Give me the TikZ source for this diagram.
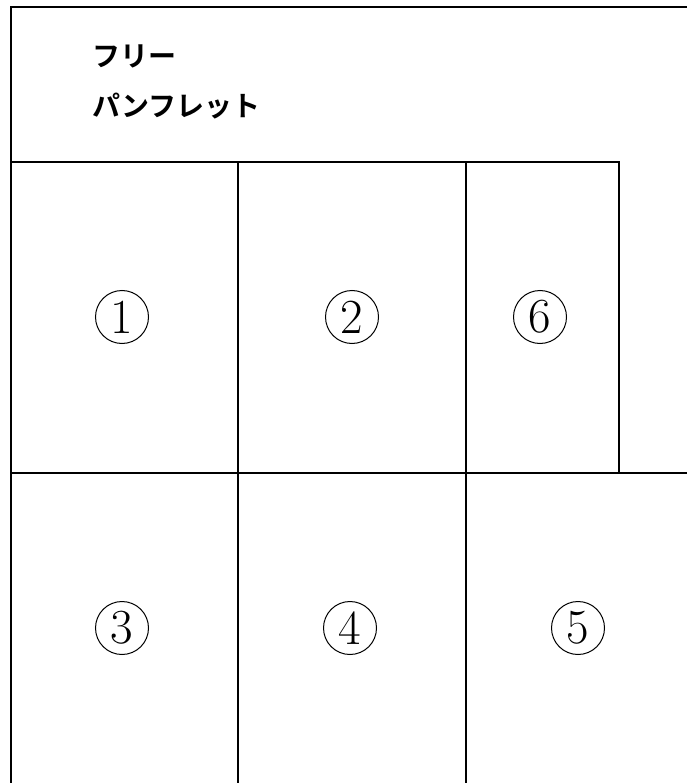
\documentclass[tikz,border=0pt]{standalone}
\usepackage{fontspec}
\usetikzlibrary{positioning}
\newfontfamily\jpfont{Noto Sans CJK JP}[BoldFont={* Bold}]
\tikzset{
    frameLine/.style={line width=2.3pt, line cap=rect},
    pageNum/.style={
        circle,
        draw,
        line width=1pt,
        minimum size=53pt,
        inner sep=0pt,
        font=\fontsize{49}{49}\selectfont
    },
    titleText/.style={
        font=\jpfont\bfseries\fontsize{28}{28}\selectfont,
        anchor=base west,
        inner sep=0pt
    }
}
\begin{document}
\begin{tikzpicture}[x=1pt, y=-1pt]
\useasboundingbox (0,0) rectangle (686,783);

% --- Frame ---
\draw[frameLine] (686,7) -- (11,7) -- (11,783);
\draw[frameLine] (11,162) -- (619,162) -- (619,473);
\draw[frameLine] (11,473) -- (686,473);
\draw[frameLine] (238,162) -- (238,783);
\draw[frameLine] (466,162) -- (466,783);

% --- Title ---
\node[titleText] (title1) at (92,67) {フリー};
\node[titleText] (title2) at (92,117) {パンフレット};

% --- Page numbers ---
\foreach \name/\num/\x/\y in {p1/1/122/317, p2/2/352/317, p6/6/540/317,
                              p3/3/122/628, p4/4/350/628, p5/5/578/628}{
    \node[pageNum] (\name) at (\x,\y) {\num};
}

\end{tikzpicture}
\end{document}
